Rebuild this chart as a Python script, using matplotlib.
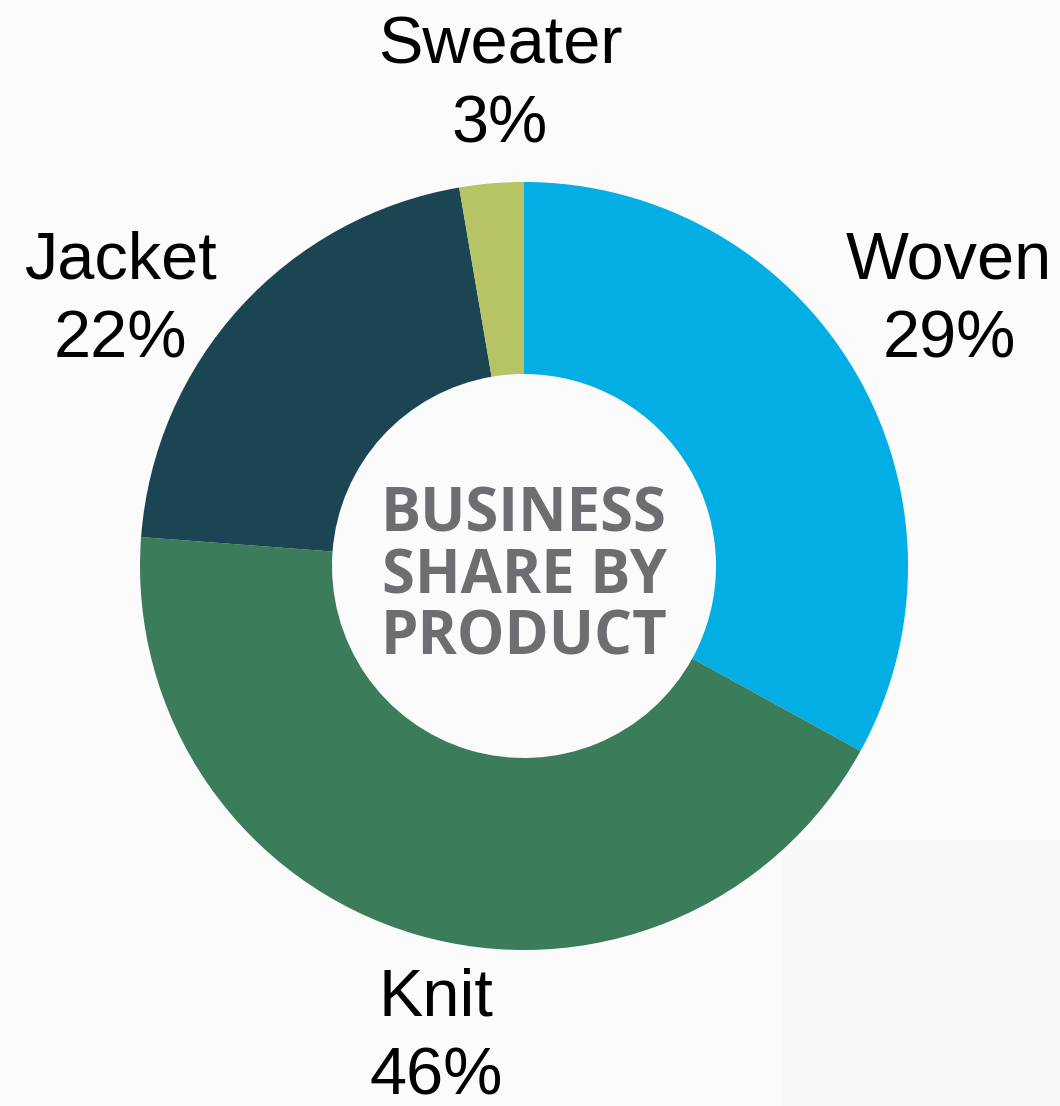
import matplotlib
matplotlib.use("Agg")
import matplotlib.pyplot as plt
from matplotlib.patches import Rectangle

products = ["Woven", "Knit", "Jacket", "Sweater"]
sizes = [33.0, 43.2, 21.1, 2.7]
shown_pct = ["29%", "46%", "22%", "3%"]
colors = ["#02aee4", "#3b7c5a", "#1b4553", "#b6c465"]

# label block centres, in pie units (radius = 1)
label_xy = [(1.107, 0.691), (-0.229, -1.23), (-1.052, 0.691), (-0.0625, 1.249)]

W, H = 1060, 1106
fig = plt.figure(figsize=(W / 100, H / 100), dpi=100)
fig.patch.set_facecolor("#fbfbfb")
fig.patches.append(Rectangle((783 / W, 0), 1 - 783 / W, 266 / H,
                             transform=fig.transFigure, facecolor="#f8f8f8",
                             edgecolor="none", zorder=0))

cx, cy, r = 524, 566, 384
ax = fig.add_axes([(cx - r) / W, (H - cy - r) / H, 2 * r / W, 2 * r / H])
ax.set_facecolor("none")
ax.set_zorder(2)

ax.pie(sizes, colors=colors, startangle=90, counterclock=False, radius=1,
       wedgeprops=dict(width=0.5, edgecolor="none"))

for name, pct, (x, y) in zip(products, shown_pct, label_xy):
    ax.text(x, y, name + "\n" + pct, ha="center", va="center",
            fontsize=48, family="Liberation Sans", color="black",
            linespacing=1.35, clip_on=False)

ax.text(0, -0.03, "BUSINESS\nSHARE BY\nPRODUCT", ha="center", va="center",
        fontsize=43, family="Open Sans", fontweight="bold", color="#6d6e71",
        linespacing=1.02)

ax.set_xlim(-1, 1)
ax.set_ylim(-1, 1)
ax.axis("off")

fig.savefig("out.png", dpi=100, facecolor=fig.get_facecolor())
